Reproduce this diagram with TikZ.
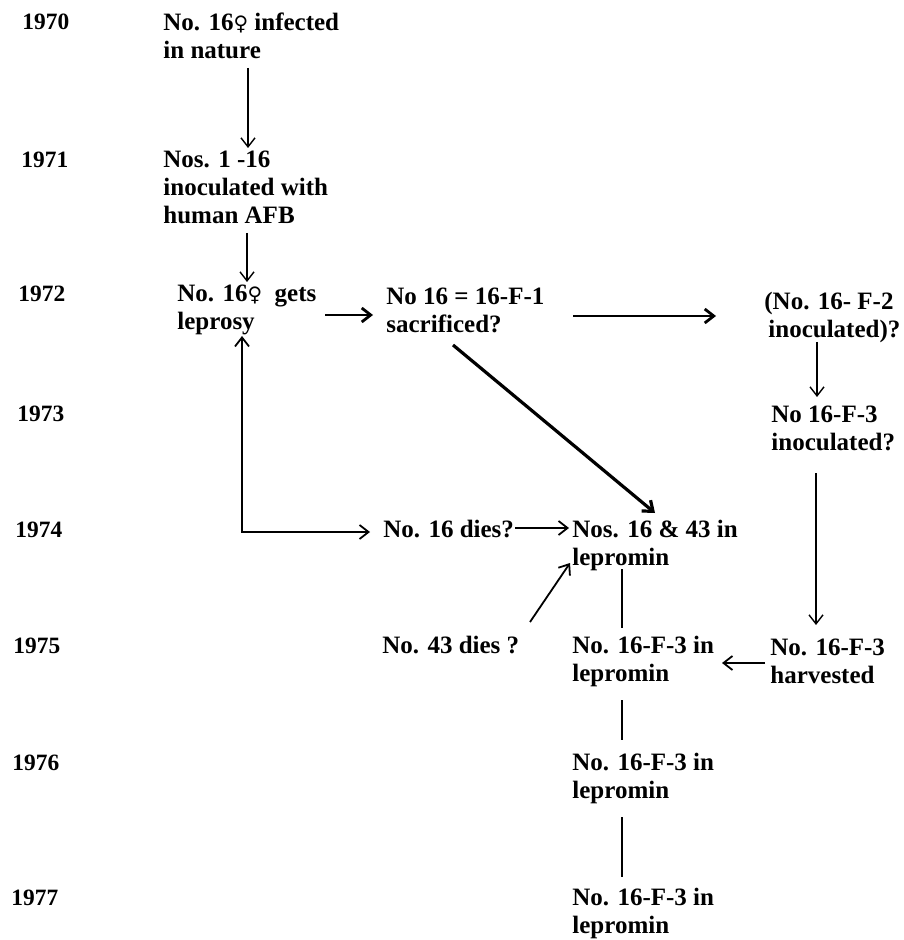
\documentclass[tikz,border=0pt]{standalone}
\usepackage{fontspec}
\setmainfont{Liberation Serif}
\newfontfamily\venusfont[Scale=0.8]{DejaVu Sans}
\usetikzlibrary{arrows.meta}
\newcommand{\venus}{{\venusfont\char"2640}}

\begin{document}
\begin{tikzpicture}[x=0.5pt,y=-0.5pt,
    every node/.style={inner sep=0pt,anchor=base west,align=left,
      font=\fontsize{12.5}{14}\selectfont\bfseries},
    year/.style={font=\fontsize{11.7}{14}\selectfont\bfseries},
    >={Straight Barb[length=4.5pt,width=7pt]},
    thinarrow/.style={line width=0.7pt,->},
    boldarrow/.style={line width=1.4pt,->},
    link/.style={line width=0.9pt}]
    \useasboundingbox (0,0) rectangle (903,940);

    % years down the left
    \foreach \yr/\xx/\yy in {1970/22/30,1971/21/168,1972/18/302,1973/17/421,
                             1974/15/537,1975/13/653,1976/12/770,1977/11/905}
      \node[year] (y\yr) at (\xx,\yy) {\yr};

    % nodes sit on the baseline of their last line
    \node (infect) at (163,59) {No. 16\venus{} infected\\in nature};
    \node (inoc) at (163,224) {Nos. 1 -16\\inoculated with\\human AFB};
    \node (gets) at (177,330) {No. 16\venus\ \ gets\\leprosy};
    \node (sacr) at (386,333) {No 16 = 16-F-1\\sacrificed?};
    \node (fii) at (764,338) {(No. 16- F-2\\\hspace{2pt}inoculated)?};
    \node (fiii) at (771,450) {No 16-F-3\\inoculated?};
    \node (dies16) at (383,537) {No. 16 dies?};
    \node (lep74) at (572,565) {Nos. 16 \& 43 in\\lepromin};
    \node (dies43) at (382,653) {No. 43 dies ?};
    \node (lep75) at (572,681) {No. 16-F-3 in\\lepromin};
    \node (harv) at (770,683) {No. 16-F-3\\harvested};
    \node (lep76) at (572,798) {No. 16-F-3 in\\lepromin};
    \node (lep77) at (572,933) {No. 16-F-3 in\\lepromin};

    \draw[thinarrow] ([shift={(85,9)}]infect.base west) -- ([shift={(85,-76)}]inoc.base west);
    \draw[thinarrow] ([shift={(84,9)}]inoc.base west) -- ([shift={(70,-48)}]gets.base west);
    \draw[boldarrow] ([shift={(148,-15)}]gets.base west) -- ([shift={(-13,-18)}]sacr.base west);
    \draw[boldarrow] ([shift={(187,-17)}]sacr.base west) -- ([shift={(-48,-22)}]fii.base west);
    \draw[boldarrow,line width=1.6pt] ([shift={(67,12)}]sacr.base west) -- ([shift={(83,-52)}]lep74.base west);
    \draw[thinarrow] ([shift={(53,4)}]fii.base west) -- ([shift={(46,-53)}]fiii.base west);
    \draw[thinarrow] ([shift={(45,23)}]fiii.base west) -- ([shift={(46,-58)}]harv.base west);
    \draw[link,<->] ([shift={(65,6)}]gets.base west) |- ([shift={(-13,-5)}]dies16.base west);
    \draw[link,->] ([shift={(132,-9)}]dies16.base west) -- ([shift={(-3,-37)}]lep74.base west);
    \draw[link,->] ([shift={(148,-31)}]dies43.base west) -- ([shift={(-2,-2)}]lep74.base west);
    \draw[link] ([shift={(50,4)}]lep74.base west) -- ([shift={(50,-53)}]lep75.base west);
    \draw[link,->] ([shift={(-5,-20)}]harv.base west) -- ([shift={(150,-18)}]lep75.base west);
    \draw[link] ([shift={(50,19)}]lep75.base west) -- ([shift={(50,-58)}]lep76.base west);
    \draw[link] ([shift={(50,19)}]lep76.base west) -- ([shift={(50,-56)}]lep77.base west);
\end{tikzpicture}
\end{document}
